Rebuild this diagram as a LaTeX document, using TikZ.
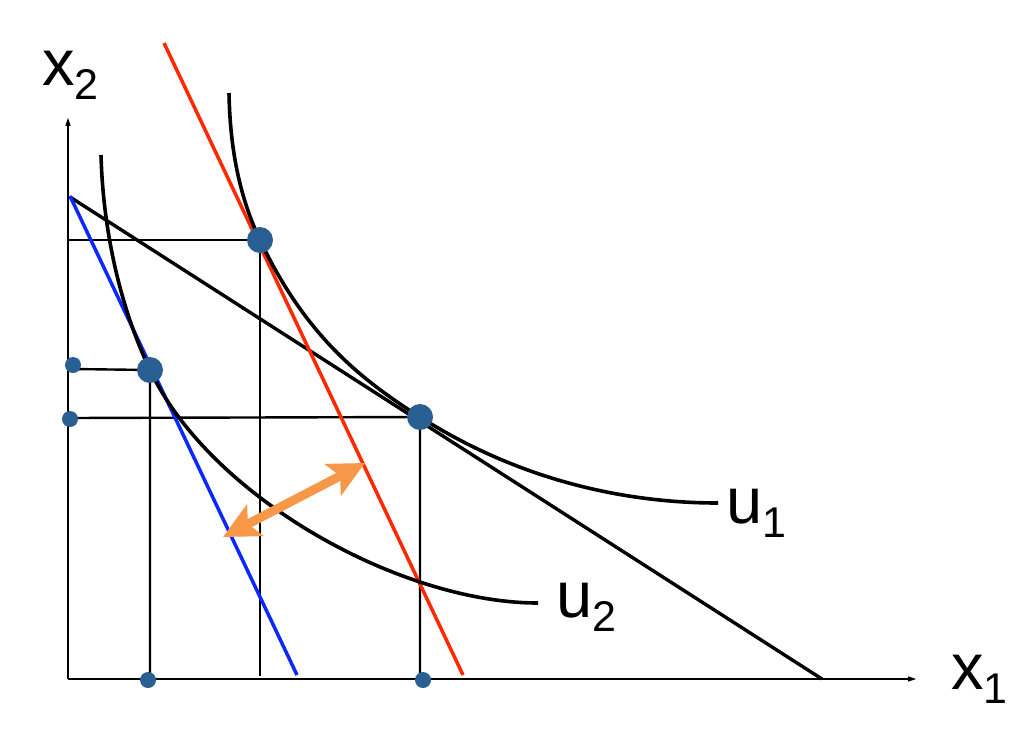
\documentclass[tikz,border=0pt]{standalone}
\usepackage{fontspec}
\setmainfont{Liberation Sans}
\usetikzlibrary{arrows.meta}
\definecolor{dotblue}{RGB}{42,95,148}
\definecolor{redline}{RGB}{255,40,0}
\definecolor{blueline}{RGB}{10,40,255}
\definecolor{orangearrow}{RGB}{247,152,72}
\begin{document}
\begin{tikzpicture}[x=1pt,y=-1pt,
  axis/.style={line width=2.4pt, -{Stealth[length=19pt,width=13pt,inset=14pt]}},
  guide/.style={line width=2.4pt},
  curve/.style={line width=3.6pt},
  budget/.style={line width=3.4pt},
  redl/.style={line width=3.5pt, draw=redline},
  bluel/.style={line width=3.5pt, draw=blueline},
  shiftarrow/.style={line width=9pt, draw=orangearrow,
    {Stealth[length=36pt,width=35pt,inset=8pt]}-{Stealth[length=36pt,width=35pt,inset=8pt]}},
  bigdot/.style={circle, fill=dotblue, inner sep=0pt, minimum size=26pt},
  smalldot/.style={circle, fill=dotblue, inner sep=0pt, minimum size=16pt},
  lab/.style={inner sep=0pt, anchor=base west, font=\fontsize{65}{65}\selectfont},
]
\newcommand{\subs}[1]{\raisebox{-14pt}{\fontsize{43}{43}\selectfont #1}}
\useasboundingbox (0,0) rectangle (1035,745);
% axes
\coordinate (O) at (68,679);
\coordinate (xend) at (916,679);
\coordinate (yend) at (68,118);
\draw[axis] (O) -- (xend);
\draw[axis] (O) -- (yend);
% dot positions
\coordinate (P1) at (260,240);
\coordinate (P2) at (150,370);
\coordinate (P3) at (420,417);
\coordinate (g1) at (68,240);
\coordinate (g1b) at (260,676);
\coordinate (g2) at (73,369);
\coordinate (g2b) at (150,679);
\coordinate (g3) at (68,418);
\coordinate (g3b) at (420,679);
% guides
\draw[guide] (g1) -- (P1) -- (g1b);
\draw[guide] (g2) -- (P2) -- (g2b);
\draw[guide] (g3) -- (P3) -- (g3b);
% budget lines
\coordinate (b0) at (70,197);
\coordinate (b1) at (822,679);
\draw[budget] (b0) -- (b1);
\coordinate (r0) at (164,43);
\coordinate (r1) at (463,675);
\draw[redl] (r0) -- (r1);
\coordinate (l0) at (70,196);
\coordinate (l1) at (297,675);
\draw[bluel] (l0) -- (l1);
% indifference curves
\coordinate (u1s) at (229,93);
\coordinate (u1e) at (718,503);
\draw[curve] (u1s) .. controls (230,150) and (240,198) .. (P1)
  .. controls (305,335) and (360,379) .. (P3)
  .. controls (530,487) and (640,503) .. (u1e);
\coordinate (u2s) at (101,155);
\coordinate (u2e) at (538,603);
\draw[curve] (u2s) .. controls (103,230) and (120,307) .. (P2)
  .. controls (210,497) and (400,603) .. (u2e);
% shift arrow
\coordinate (a0) at (223,537);
\coordinate (a1) at (365,463);
\draw[shiftarrow] (a0) -- (a1);
% dots
\node[bigdot] (D1) at (P1) {};
\node[bigdot] (D2) at (P2) {};
\node[bigdot] (D3) at (P3) {};
\node[smalldot] (s1) at (73,365) {};
\node[smalldot] (s2) at (70,419) {};
\node[smalldot] (s3) at (148,680) {};
\node[smalldot] (s4) at (423,680) {};
% labels
\node[lab] (lx2) at (42,85) {x\subs{2}};
\node[lab] (lx1) at (951,689) {x\subs{1}};
\node[lab] (lu1) at (726,523) {u\subs{1}};
\node[lab] (lu2) at (556,617) {u\subs{2}};
\end{tikzpicture}
\end{document}
